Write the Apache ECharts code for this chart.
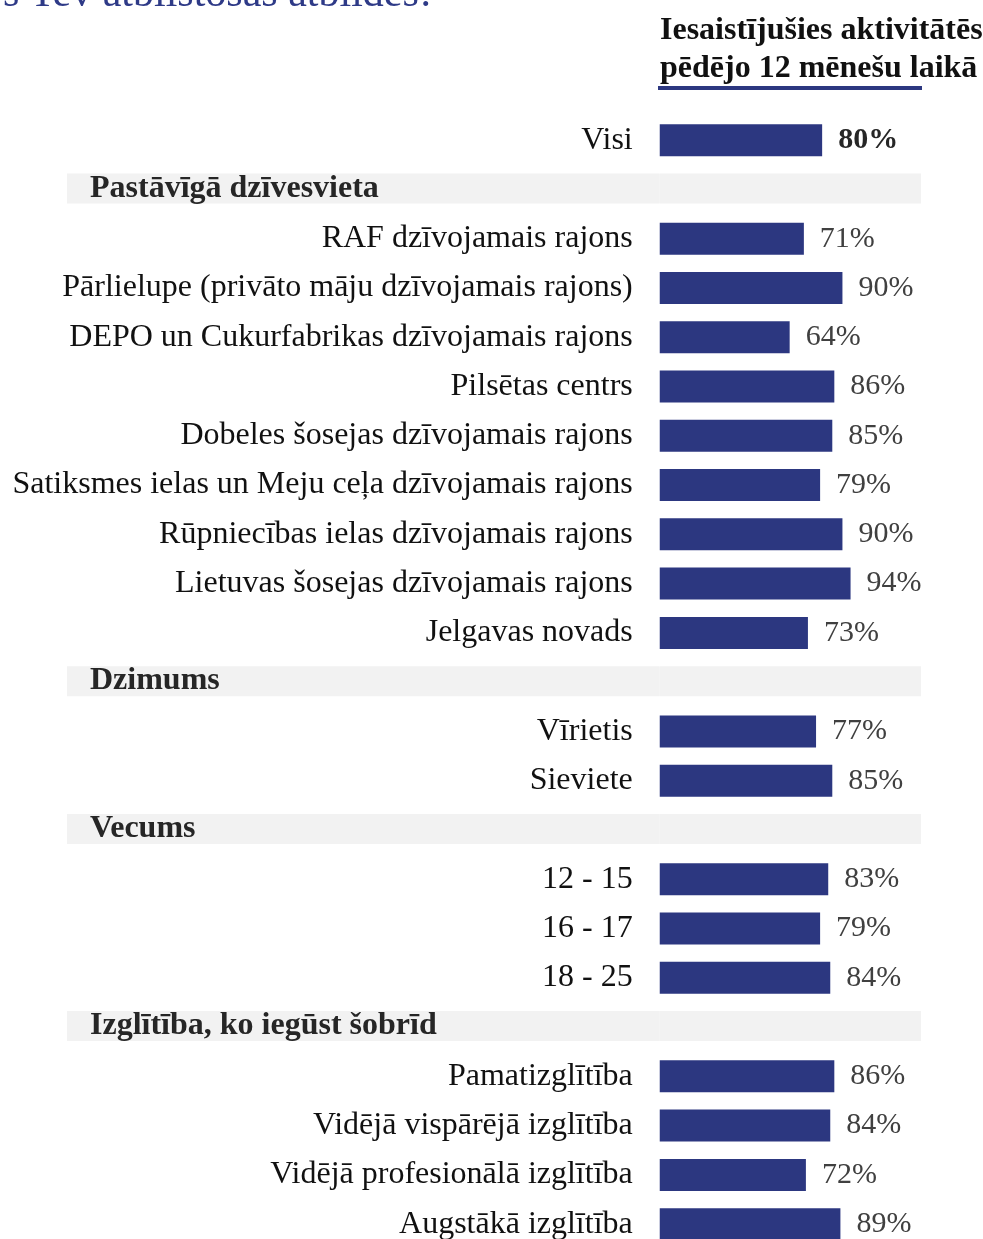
<!DOCTYPE html>
<html>
<head>
<meta charset="utf-8">
<style>
  html, body { margin: 0; padding: 0; background: #ffffff; }
  #chart { width: 983px; height: 1239px; }
</style>
<script src="https://cdn.jsdelivr.net/npm/echarts@6/dist/echarts.min.js"></script>
</head>
<body>
<div id="chart"></div>
<script>
// dati
const totalLabel = 'Visi'
const totalValue = 80

const groupTitles = ['Pastāvīgā dzīvesvieta', 'Dzimums', 'Vecums', 'Izglītība, ko iegūst šobrīd']

const residenceLabels = [
  'RAF dzīvojamais rajons',
  'Pārlielupe (privāto māju dzīvojamais rajons)',
  'DEPO un Cukurfabrikas dzīvojamais rajons',
  'Pilsētas centrs',
  'Dobeles šosejas dzīvojamais rajons',
  'Satiksmes ielas un Meju ceļa dzīvojamais rajons',
  'Rūpniecības ielas dzīvojamais rajons',
  'Lietuvas šosejas dzīvojamais rajons',
  'Jelgavas novads'
]
const residenceValues = [71, 90, 64, 86, 85, 79, 90, 94, 73]

const genderLabels = ['Vīrietis', 'Sieviete']
const genderValues = [77, 85]

const ageLabels = ['12 - 15', '16 - 17', '18 - 25']
const ageValues = [83, 79, 84]

const educationLabels = ['Pamatizglītība', 'Vidējā vispārējā izglītība', 'Vidējā profesionālā izglītība', 'Augstākā izglītība']
const educationValues = [86, 84, 72, 89]

const headerTitle = 'Iesaistījušies aktivitātēs\npēdējo 12 mēnešu laikā'
const pageTitle = 's Tev atbilstošas atbildes!'

// ass robežas (procenti)
const xMin = -292
const xMax = 128.7

// rindu salikšana
const groups = [
  [residenceLabels, residenceValues],
  [genderLabels, genderValues],
  [ageLabels, ageValues],
  [educationLabels, educationValues]
]
const categories = [totalLabel]
const values = [totalValue]
const headerRows = []
groups.forEach(function (g, i) {
  headerRows.push(categories.length)
  categories.push(groupTitles[i])
  values.push('-')
  g[0].forEach(function (name, j) {
    categories.push(name)
    values.push(g[1][j])
  })
})
const bandLeft = categories.map(function (c, i) { return headerRows.indexOf(i) >= 0 ? xMin : '-' })
const bandRight = categories.map(function (c, i) { return headerRows.indexOf(i) >= 0 ? xMax : '-' })

const serif = '"Liberation Serif", "Times New Roman", serif'
const navy = '#2c3780'

const gridLeft = 67
const gridRight = 62
const gridWidth = 983 - gridLeft - gridRight
// y ass novietota pie nulles
const yAxisOffset = -(0 - xMin) / (xMax - xMin) * gridWidth

const myChart = echarts.init(document.getElementById('chart'))
const option = {
  animation: false,
  title: [
    {
      text: pageTitle,
      left: -2,
      top: -31,
      textStyle: { fontFamily: serif, fontSize: 42, fontWeight: 'normal', color: '#2e3a87' }
    },
    {
      text: headerTitle,
      left: 655,
      top: 7,
      textStyle: { fontFamily: serif, fontSize: 32, fontWeight: 'bold', color: '#111111', lineHeight: 38 }
    }
  ],
  graphic: [
    { type: 'rect', shape: { x: 658, y: 86, width: 264, height: 4 }, style: { fill: navy } }
  ],
  grid: { left: gridLeft, right: gridRight, top: 115.5, height: 1133.3, containLabel: false, outerBoundsMode: 'none' },
  xAxis: {
    type: 'value',
    min: xMin,
    max: xMax,
    show: false,
    splitLine: { show: false }
  },
  yAxis: {
    type: 'category',
    inverse: true,
    data: categories,
    offset: yAxisOffset,
    axisLine: { show: false, onZero: false },
    axisTick: { show: false },
    axisLabel: {
      margin: 27,
      fontFamily: serif,
      fontSize: 32,
      color: '#111111',
      formatter: function (v, i) { return headerRows.indexOf(i) >= 0 ? '' : v }
    }
  },
  series: [
    {
      type: 'bar',
      data: bandLeft,
      barWidth: 30,
      barGap: '-100%',
      itemStyle: { color: '#f2f2f2' },
      label: {
        show: true,
        position: 'insideLeft',
        distance: 23,
        fontFamily: serif,
        fontSize: 32,
        fontWeight: 'bold',
        color: '#262626',
        formatter: function (p) { return p.name }
      },
      silent: true
    },
    {
      type: 'bar',
      data: bandRight,
      barWidth: 30,
      barGap: '-100%',
      itemStyle: { color: '#f2f2f2' },
      silent: true
    },
    {
      type: 'bar',
      data: values.map(function (v, i) {
        if (i === 0) {
          return { value: v, label: { fontWeight: 'bold', color: '#262626' } }
        }
        return v
      }),
      barWidth: 32,
      barGap: '-100%',
      itemStyle: { color: navy },
      label: {
        show: true,
        position: 'right',
        distance: 16,
        fontFamily: serif,
        fontSize: 30,
        color: '#404040',
        formatter: '{c}%'
      }
    }
  ]
}
myChart.setOption(option)
window.onresize = myChart.resize
</script>
</body>
</html>
